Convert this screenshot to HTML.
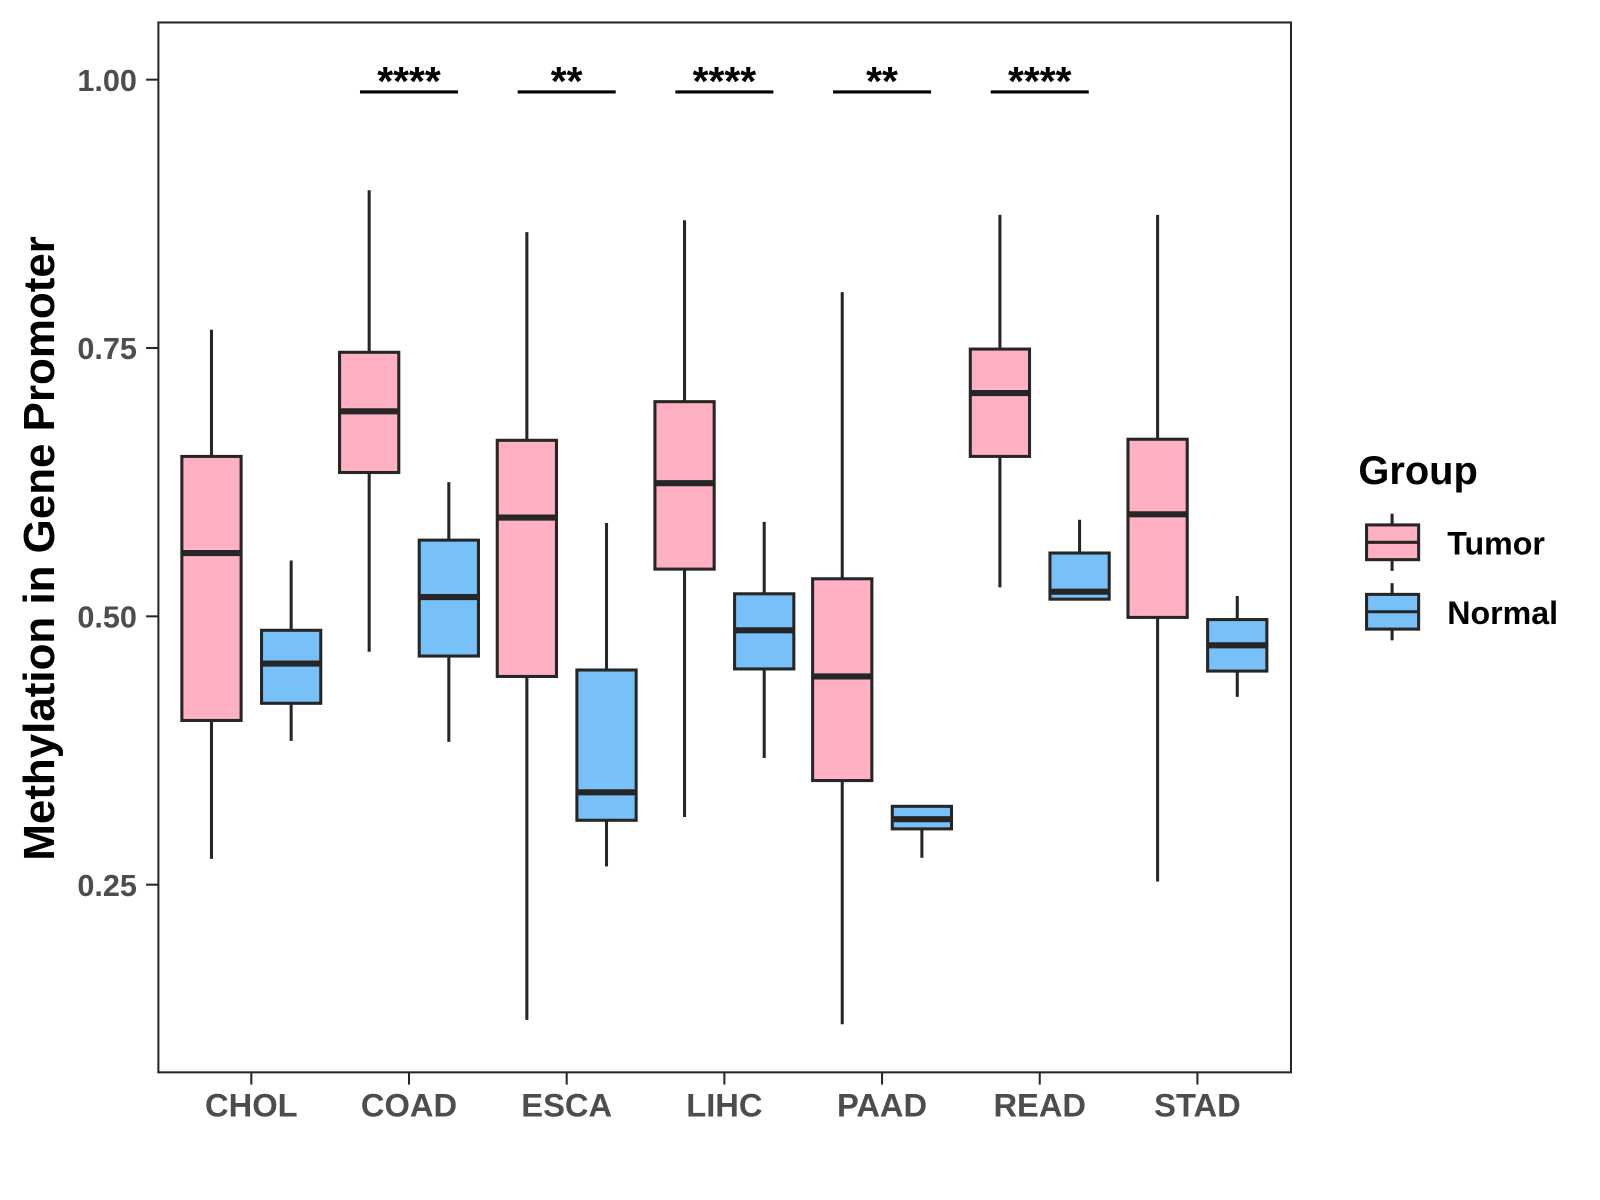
<!DOCTYPE html>
<html><head><meta charset="utf-8"><style>
body{margin:0;background:#fff;}
svg{display:block;font-family:"Liberation Sans",Arial,sans-serif;}
</style></head><body>
<svg id="chart" width="1600" height="1200" viewBox="0 0 1566.5 1175">
<rect x="0" y="0" width="1566.5" height="1175" fill="#fff"/>
<rect x="155" y="22" width="1109" height="1028" fill="#fff" stroke="#262626" stroke-width="2"/>
<g id="axes"></g>
<g id="boxes"></g>
<g id="sig"></g>
<text x="53" y="537" transform="rotate(-90 53 537)" text-anchor="middle" font-size="43" font-weight="bold" fill="#000">Methylation in Gene Promoter</text>
<g>
<text x="1330" y="474" font-size="39" font-weight="bold" fill="#000">Group</text>
<g>
<line x1="1363" y1="503" x2="1363" y2="559" stroke="#262626" stroke-width="3"/>
<rect x="1338" y="514" width="51" height="34" fill="#FFB0C3" stroke="#262626" stroke-width="3"/>
<line x1="1338" y1="531" x2="1389" y2="531" stroke="#262626" stroke-width="3"/>
<text x="1417" y="543" font-size="31.5" font-weight="bold" fill="#000">Tumor</text>
</g>
<g>
<line x1="1363" y1="571" x2="1363" y2="627" stroke="#262626" stroke-width="3"/>
<rect x="1338" y="582" width="51" height="34" fill="#78C1F8" stroke="#262626" stroke-width="3"/>
<line x1="1338" y1="599" x2="1389" y2="599" stroke="#262626" stroke-width="3"/>
<text x="1417" y="611" font-size="31.5" font-weight="bold" fill="#000">Normal</text>
</g>
</g>
</svg>
<script>
const categories = ["CHOL","COAD","ESCA","LIHC","PAAD","READ","STAD"];
// [low, q1, median, q3, high]
const tumorStats = [
 [0.274,0.403,0.559,0.649,0.767],
 [0.467,0.634,0.691,0.746,0.897],
 [0.124,0.444,0.592,0.664,0.858],
 [0.313,0.544,0.624,0.700,0.869],
 [0.120,0.347,0.444,0.535,0.802],
 [0.527,0.649,0.708,0.749,0.874],
 [0.253,0.499,0.595,0.665,0.874]
];
const normalStats = [
 [0.384,0.419,0.456,0.487,0.552],
 [0.383,0.463,0.518,0.571,0.625],
 [0.267,0.310,0.336,0.450,0.587],
 [0.368,0.451,0.487,0.521,0.588],
 [0.275,0.302,0.311,0.323,0.323],
 [0.516,0.516,0.523,0.559,0.590],
 [0.425,0.449,0.473,0.497,0.519]
];
const sigLabels = ["","****","**","****","**","****",""];
const yTicks = [0.25,0.50,0.75,1.00];
const yTickLabels = ["0.25","0.50","0.75","1.00"];

const NS="http://www.w3.org/2000/svg";
function y(v){return 78+(1-v)*1051;}
function x(i){return 246+i*154.4;}
function mk(t,a,p){const e=document.createElementNS(NS,t);for(const k in a)e.setAttribute(k,a[k]);p.appendChild(e);return e;}
const axes=document.getElementById('axes'),boxes=document.getElementById('boxes'),sig=document.getElementById('sig');
yTicks.forEach((v,i)=>{
 const t=mk('line',{x1:143,x2:155,y1:y(v),y2:y(v),stroke:'#262626','stroke-width':2},axes);
 
 
 const l=mk('text',{x:134,y:y(v)+11,'text-anchor':'end','font-size':30,'font-weight':'bold',fill:'#4d4d4d'},axes);
 l.textContent=yTickLabels[i];
 
 
});
categories.forEach((c,i)=>{
 const t=mk('line',{x1:x(i),x2:x(i),y1:1050,y2:1062,stroke:'#262626','stroke-width':2},axes);
 
 
 const l=mk('text',{x:x(i),y:1093,'text-anchor':'middle','font-size':32,'font-weight':'bold',fill:'#4d4d4d'},axes);
 l.textContent=c;
 
 
 [[tumorStats[i],-39,'#FFB0C3','tumor'],[normalStats[i],39,'#78C1F8','normal']].forEach(([s,off,fill,nm])=>{
  const cx=x(i)+off;
  const g=mk('g',{},boxes);
  
  
  mk('line',{x1:cx,x2:cx,y1:y(s[0]),y2:y(s[4]),stroke:'#262626','stroke-width':3},g);
  mk('rect',{x:cx-29,y:y(s[3]),width:58,height:Math.max(1,y(s[1])-y(s[3])),fill:fill,stroke:'#262626','stroke-width':3},g);
  mk('line',{x1:cx-29,x2:cx+29,y1:y(s[2]),y2:y(s[2]),stroke:'#262626','stroke-width':6},g);
 });
 if(sigLabels[i]){
  const g=mk('g',{},sig);
  
  
  mk('line',{x1:x(i)-48,x2:x(i)+48,y1:90,y2:90,stroke:'#000','stroke-width':3},g);
  const tx=mk('text',{x:x(i),y:93,'text-anchor':'middle','font-size':40,'font-weight':'bold',fill:'#000'},g);
  tx.textContent=sigLabels[i];
 }
});
</script>
</body></html>
